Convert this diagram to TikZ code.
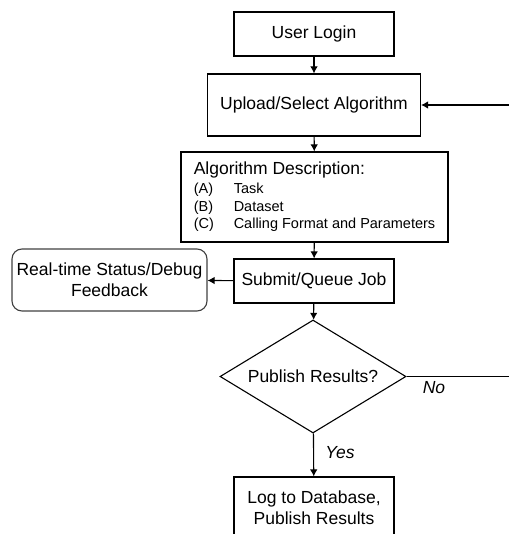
\documentclass[tikz,border=0pt]{standalone}
\usepackage{fontspec}
\setmainfont{Liberation Sans}
\usetikzlibrary{shapes.geometric,arrows.meta}
\newcommand{\mainsz}{\fontsize{17.5}{21}\selectfont}
\newcommand{\smallsz}{\fontsize{14.5}{17.5}\selectfont}
\tikzset{
    stepbox/.style={draw, line width=1.1pt, minimum width=160pt, minimum height=44pt, inner sep=2pt, align=center, font=\mainsz},
    flow/.style={line width=1.1pt, -{Latex[length=7pt,width=7.5pt]}},
    answer/.style={font=\mainsz\itshape, inner sep=0pt}
}

\begin{document}
\begin{tikzpicture}[x=1pt, y=-1pt]
    \useasboundingbox (0,0) rectangle (508,534);

    \node[stepbox] (login) at (314, 34) {User Login};
    \node[stepbox, minimum width=213pt, minimum height=62pt] (upload) at (314, 105) {Upload/Select Algorithm};
    \node[stepbox, minimum width=267pt, minimum height=90pt, align=left, font=\smallsz] (desc) at (314.5, 197)
        {{\mainsz Algorithm Description:}\\[1.5pt]
         \makebox[40pt][l]{(A)}Task\\
         \makebox[40pt][l]{(B)}Dataset\\
         \makebox[40pt][l]{(C)}Calling Format and Parameters};
    \node[stepbox] (submit) at (314, 281) {Submit/Queue Job};
    \node[stepbox, draw=black!75, rounded corners=10pt, minimum width=195pt, minimum height=62pt] (feedback) at (109.5, 280) {Real-time Status/Debug\\Feedback};
    \node[draw, diamond, line width=1.1pt, aspect=1.65, minimum width=186pt, minimum height=113pt, inner sep=0pt, font=\mainsz] (publish) at (313, 376.5) {Publish Results?};
    \node[stepbox, minimum height=62pt] (log) at (314, 508) {Log to Database,\\Publish Results};
    \coordinate (loopCorner) at (514, 376.5);

    \draw[flow] (login) -- (upload);
    \draw[flow] (upload) -- (desc);
    \draw[flow] (desc) -- (submit);
    \draw[flow] (submit) -- (feedback);
    \draw[flow] (submit) -- (publish);
    \draw[flow] (publish) -- (log);
    \draw[flow] (publish.east) -- (loopCorner) |- (upload.east);

    \node[answer] (yesLabel) at (340, 453) {Yes};
    \node[answer] (noLabel) at (434, 388) {No};
\end{tikzpicture}
\end{document}
